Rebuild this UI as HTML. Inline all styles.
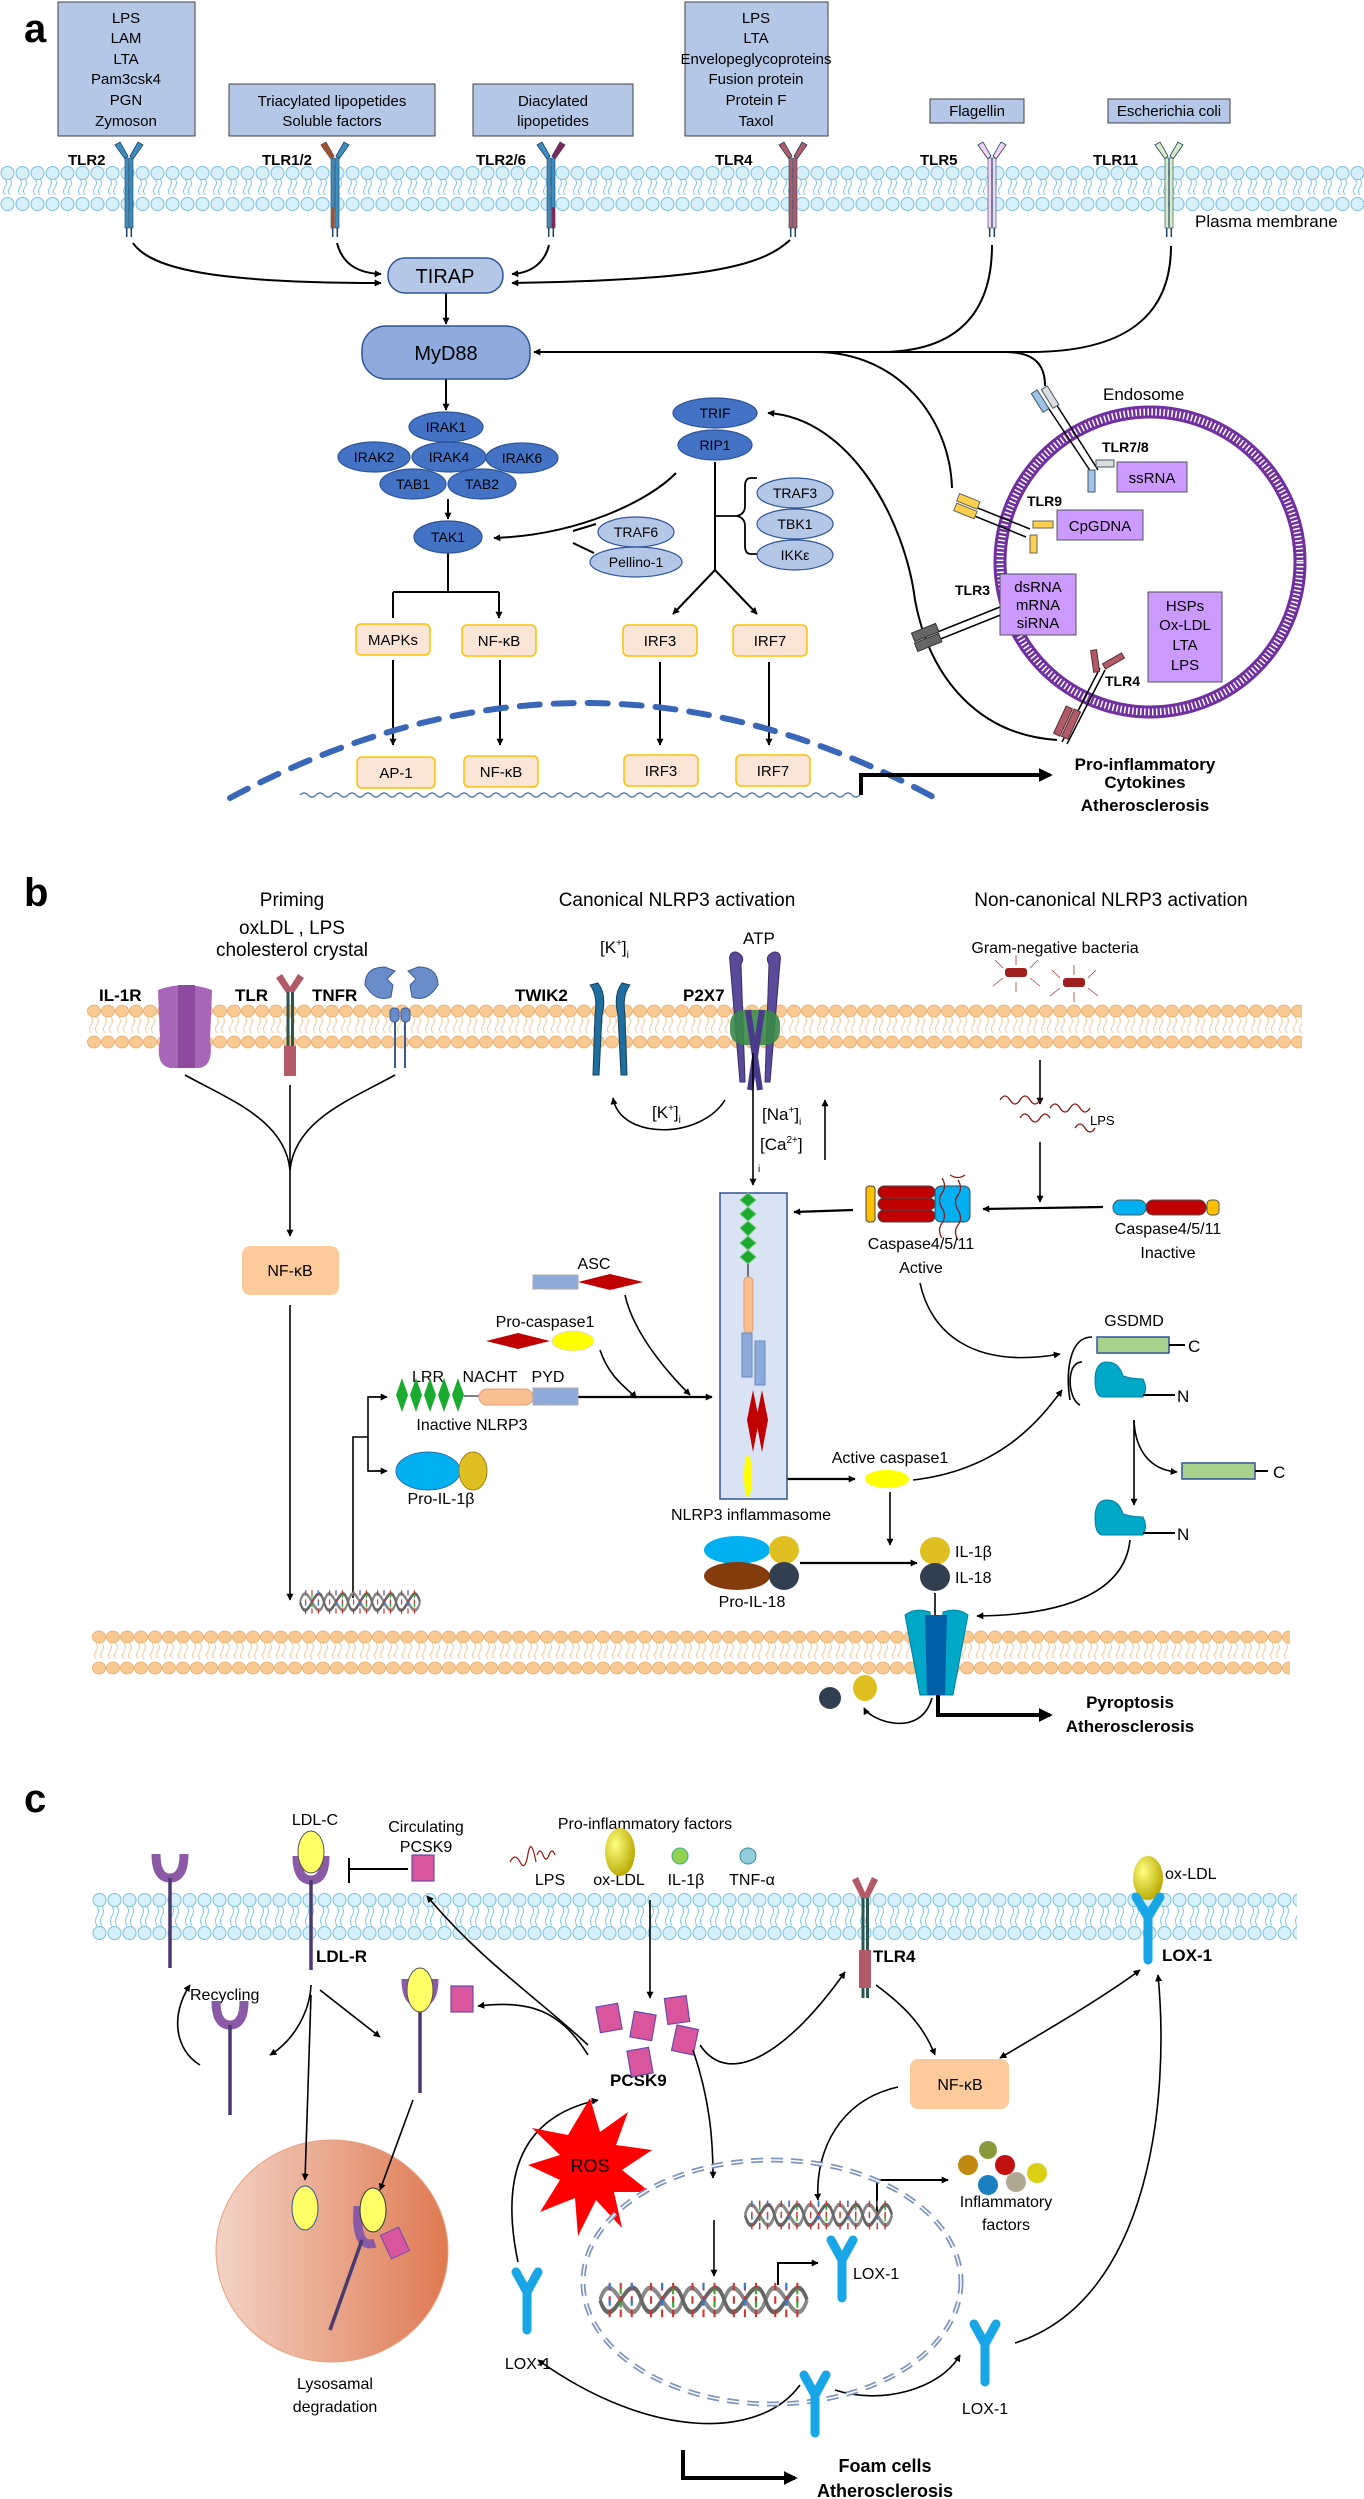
<!DOCTYPE html>
<html><head><meta charset="utf-8"><style>
html,body{margin:0;padding:0;background:#fff}
svg{display:block}
text{font-family:"Liberation Sans",Arial,sans-serif}
</style></head><body>
<svg width="1364" height="2499" viewBox="0 0 1364 2499" xmlns="http://www.w3.org/2000/svg">
<defs>
<marker id="ah" viewBox="0 0 10 10" refX="9" refY="5" markerWidth="7" markerHeight="7" orient="auto-start-reverse" markerUnits="userSpaceOnUse"><path d="M0,0 L10,5 L0,10 z" fill="#000"/></marker>
<marker id="ahb" viewBox="0 0 10 10" refX="8" refY="5" markerWidth="14" markerHeight="14" orient="auto" markerUnits="userSpaceOnUse"><path d="M0,0 L10,5 L0,10 z" fill="#000"/></marker>
<pattern id="memB" x="0" y="166" width="15" height="45" patternUnits="userSpaceOnUse">
<path d="M5,13 q3,4 0,8 t0,8 M10,13 q3,4 0,8 t0,8" stroke="#7cc8e8" stroke-width="1" fill="none"/>
<circle cx="7.5" cy="7" r="6.5" fill="#d8f0fa" stroke="#7cc0dc" stroke-width="1"/>
<circle cx="7.5" cy="38" r="6.5" fill="#d8f0fa" stroke="#7cc0dc" stroke-width="1"/>
</pattern>
<pattern id="memC" x="92" y="1893" width="15" height="47" patternUnits="userSpaceOnUse">
<path d="M5,13 q3,5 0,10 t0,10 M10,13 q3,5 0,10 t0,10" stroke="#7cc8e8" stroke-width="1" fill="none"/>
<circle cx="7.5" cy="7" r="6.5" fill="#d8f0fa" stroke="#7cc0dc" stroke-width="1"/>
<circle cx="7.5" cy="40" r="6.5" fill="#d8f0fa" stroke="#7cc0dc" stroke-width="1"/>
</pattern>
<pattern id="memO" x="87" y="1004" width="14" height="45" patternUnits="userSpaceOnUse">
<path d="M4,13 q3,4 0,8 t0,8 M10,13 q3,4 0,8 t0,8" stroke="#f6c898" stroke-width="1" fill="none"/>
<ellipse cx="7" cy="7" rx="6.5" ry="6" fill="#f9c992" stroke="#e3a868" stroke-width="0.8"/>
<ellipse cx="7" cy="38" rx="6.5" ry="6" fill="#f9c992" stroke="#e3a868" stroke-width="0.8"/>
</pattern>
<pattern id="memO2" x="92" y="1630" width="14" height="45" patternUnits="userSpaceOnUse">
<path d="M4,13 q3,4 0,8 t0,8 M10,13 q3,4 0,8 t0,8" stroke="#f6c898" stroke-width="1" fill="none"/>
<ellipse cx="7" cy="7" rx="6.5" ry="6" fill="#f9c992" stroke="#e3a868" stroke-width="0.8"/>
<ellipse cx="7" cy="38" rx="6.5" ry="6" fill="#f9c992" stroke="#e3a868" stroke-width="0.8"/>
</pattern>
<linearGradient id="lyso" x1="0" x2="1" y1="0" y2="0"><stop offset="0" stop-color="#f3d3c5"/><stop offset="1" stop-color="#df7a52"/></linearGradient>
<radialGradient id="yb" cx="0.35" cy="0.35" r="0.7"><stop offset="0" stop-color="#ffff80"/><stop offset="1" stop-color="#b8a800"/></radialGradient>
<g id="tlr">
<polygon points="-14,-44 -9,-47 -1,-33 -4,-30" fill="currentColor" stroke="#1f3f5f" stroke-width="0.8"/>
<polygon points="14,-44 9,-47 1,-33 4,-30" fill="currentColor" stroke="#1f3f5f" stroke-width="0.8"/>
<rect x="-4" y="-31" width="3.5" height="70" fill="currentColor" stroke="#1f3f5f" stroke-width="0.6"/>
<rect x="0.5" y="-31" width="3.5" height="70" fill="currentColor" stroke="#1f3f5f" stroke-width="0.6"/>
<path d="M-2.3,39 V48 M2.3,39 V48" stroke="#1f3f5f" stroke-width="1.5"/>
</g>
<g id="lox"><path d="M-11,-28 L0,-8 L11,-28 M0,-8 V30" stroke="#19a6e6" stroke-width="9" stroke-linecap="round" fill="none"/></g>
<g id="ldlr"><path d="M-14,-24 Q-14,0 0,0 Q14,0 14,-24" stroke="#8a5aa6" stroke-width="9" fill="none"/><path d="M0,0 V90" stroke="#4a3a70" stroke-width="3.5"/></g>
<g id="sq"><rect x="-11" y="-13" width="22" height="26" fill="#d9559c" stroke="#6b4bb0" stroke-width="1.2"/></g>
<g id="dna"><path d="M0,0 c10,-22 20,22 30,0 s20,22 30,0 s20,22 30,0 s20,22 30,0 s20,22 30,0" stroke="#888" stroke-width="2.5" fill="none"/><path d="M0,0 c10,22 20,-22 30,0 s20,-22 30,0 s20,-22 30,0 s20,-22 30,0 s20,-22 30,0" stroke="#666" stroke-width="2.5" fill="none"/><path d="M7,-9 v18 M15,-9 v18 M23,-9 v18 M37,-9 v18 M45,-9 v18 M53,-9 v18 M67,-9 v18 M75,-9 v18 M83,-9 v18 M97,-9 v18 M105,-9 v18 M113,-9 v18 M127,-9 v18 M135,-9 v18 M143,-9 v18" stroke="#c33" stroke-width="1.5" stroke-dasharray="4 3"/><path d="M7,-9 v18 M23,-9 v18 M45,-9 v18 M75,-9 v18 M105,-9 v18 M135,-9 v18" stroke="#2a7de1" stroke-width="1.5" stroke-dasharray="3 6"/><path d="M15,-6 v12 M53,-6 v12 M83,-6 v12 M113,-6 v12 M143,-6 v12" stroke="#3a3" stroke-width="1.5" stroke-dasharray="3 4"/></g>
</defs>

<!-- ================= SECTION A ================= -->
<text x="24" y="42" font-size="40" font-weight="bold">a</text>
<g font-size="15" text-anchor="middle">
<rect x="58" y="2" width="137" height="134" fill="#b4c7e7" stroke="#404040" stroke-width="1"/>
<text x="126" y="23">LPS</text><text x="126" y="43">LAM</text><text x="126" y="64">LTA</text><text x="126" y="84">Pam3csk4</text><text x="126" y="105">PGN</text><text x="126" y="126">Zymoson</text>
<rect x="229" y="84" width="206" height="52" fill="#b4c7e7" stroke="#404040"/>
<text x="332" y="106">Triacylated lipopetides</text><text x="332" y="126">Soluble factors</text>
<rect x="473" y="84" width="160" height="52" fill="#b4c7e7" stroke="#404040"/>
<text x="553" y="106">Diacylated</text><text x="553" y="126">lipopetides</text>
<rect x="685" y="2" width="143" height="134" fill="#b4c7e7" stroke="#404040"/>
<text x="756" y="23">LPS</text><text x="756" y="43">LTA</text><text x="756" y="64">Envelopeglycoproteins</text><text x="756" y="84">Fusion protein</text><text x="756" y="105">Protein F</text><text x="756" y="126">Taxol</text>
<rect x="930" y="99" width="94" height="24" fill="#b4c7e7" stroke="#404040"/>
<text x="977" y="116">Flagellin</text>
<rect x="1108" y="99" width="122" height="24" fill="#b4c7e7" stroke="#404040"/>
<text x="1169" y="116">Escherichia coli</text>
</g>
<rect x="0" y="166" width="1364" height="45" fill="url(#memB)"/>
<g font-size="15" font-weight="bold">
<text x="68" y="165">TLR2</text><text x="262" y="165">TLR1/2</text><text x="476" y="165">TLR2/6</text><text x="715" y="165">TLR4</text><text x="920" y="165">TLR5</text><text x="1093" y="165">TLR11</text>
</g>
<text x="1195" y="227" font-size="17">Plasma membrane</text>
<use href="#tlr" x="129" y="189" color="#3a8fc0"/>
<use href="#tlr" x="335" y="189" color="#3a8fc0"/>
<g transform="translate(335,189)"><polygon points="-14,-44 -9,-47 -1,-33 -4,-30" fill="#a0522d"/><rect x="-4" y="18" width="3.5" height="21" fill="#a0522d"/></g>
<use href="#tlr" x="551" y="189" color="#3a8fc0"/>
<g transform="translate(551,189)"><polygon points="14,-44 9,-47 1,-33 4,-30" fill="#7b2a5a"/><rect x="0.5" y="18" width="3.5" height="21" fill="#7b2a5a"/></g>
<use href="#tlr" x="793" y="189" color="#b25a68"/>
<use href="#tlr" x="992" y="189" color="#f2d6f2"/>
<use href="#tlr" x="1169" y="189" color="#d8ecc8"/>

<g fill="none" stroke="#000" stroke-width="2">
<path d="M133,243 C150,268 210,283 381,283" marker-end="url(#ah)"/>
<path d="M337,243 C342,262 355,273 381,274" marker-end="url(#ah)"/>
<path d="M549,245 C545,262 532,273 512,274" marker-end="url(#ah)"/>
<path d="M790,240 C760,268 700,280 512,283" marker-end="url(#ah)"/>
<path d="M992,245 C992,320 950,352 880,352 L534,352" marker-end="url(#ah)"/>
<path d="M1171,246 C1171,320 1120,352 1030,352 L880,352"/>
<path d="M1045,386 C1045,365 1035,352 1005,352"/>
<path d="M952,488 C950,420 900,352 815,352"/>
<path d="M1057,740 C980,735 930,680 915,600 C905,520 850,418 768,413" marker-end="url(#ah)"/>
<path d="M446,293 V324" marker-end="url(#ah)"/>
<path d="M446,379 V410" marker-end="url(#ah)"/>
<path d="M448,499 V519" marker-end="url(#ah)"/>
<path d="M676,473 C650,500 580,535 494,538" marker-end="url(#ah)"/>
<path d="M573,531 L596,524 M573,543 L594,553"/>
<path d="M448,553 V592 M393,592 H499"/>
<path d="M393,592 V618 M499,592 V618" marker-end="url(#ah)"/>
<path d="M715,462 V570"/>
<path d="M715,570 L673,614" marker-end="url(#ah)"/>
<path d="M715,570 L757,614" marker-end="url(#ah)"/>
<path d="M757,478 h-6 q-6,0 -6,8 v20 q0,8 -8,10 q8,2 8,10 v20 q0,8 6,8 h6" stroke-width="1.8"/>
<path d="M715,516 H737" stroke-width="1.8"/>
<path d="M393,660 V745" marker-end="url(#ah)"/>
<path d="M500,660 V745" marker-end="url(#ah)"/>
<path d="M660,662 V745" marker-end="url(#ah)"/>
<path d="M769,662 V745" marker-end="url(#ah)"/>
</g>
<rect x="388" y="258" width="115" height="35" rx="17" fill="#b4c7e7" stroke="#2f5597" stroke-width="1.5"/>
<text x="445" y="283" font-size="20" text-anchor="middle">TIRAP</text>
<rect x="362" y="326" width="168" height="53" rx="24" fill="#8faadc" stroke="#2f5597" stroke-width="1.5"/>
<text x="446" y="360" font-size="20" text-anchor="middle">MyD88</text>
<g fill="#4472c4" stroke="#2f5597" stroke-width="1.2">
<ellipse cx="446" cy="427" rx="37" ry="15"/>
<ellipse cx="374" cy="457" rx="36" ry="15"/><ellipse cx="522" cy="458" rx="36" ry="15"/><ellipse cx="449" cy="457" rx="37" ry="15"/>
<ellipse cx="413" cy="484" rx="33" ry="15"/><ellipse cx="482" cy="484" rx="34" ry="15"/>
<ellipse cx="448" cy="537" rx="34" ry="16"/>
<ellipse cx="715" cy="413" rx="42" ry="15"/><ellipse cx="715" cy="445" rx="37" ry="15"/>
</g>
<g fill="#b4c7e7" stroke="#2f5597" stroke-width="1.2">
<ellipse cx="636" cy="532" rx="38" ry="15"/><ellipse cx="636" cy="562" rx="46" ry="15"/>
<ellipse cx="795" cy="493" rx="38" ry="15"/><ellipse cx="795" cy="524" rx="38" ry="15"/><ellipse cx="795" cy="555" rx="38" ry="15"/>
</g>
<g font-size="14" text-anchor="middle">
<text x="446" y="432">IRAK1</text><text x="374" y="462">IRAK2</text><text x="449" y="462">IRAK4</text><text x="522" y="463">IRAK6</text><text x="413" y="489">TAB1</text><text x="482" y="489">TAB2</text><text x="448" y="542">TAK1</text>
<text x="715" y="418">TRIF</text><text x="715" y="450">RIP1</text>
<text x="636" y="537">TRAF6</text><text x="636" y="567">Pellino-1</text>
<text x="795" y="498">TRAF3</text><text x="795" y="529">TBK1</text><text x="795" y="560">IKKε</text>
</g>
<g fill="#fbe5d6" stroke="#ffc000" stroke-width="1.5">
<rect x="356" y="624" width="74" height="31" rx="5"/><rect x="462" y="625" width="74" height="31" rx="5"/><rect x="623" y="625" width="74" height="31" rx="5"/><rect x="733" y="625" width="74" height="31" rx="5"/>
<rect x="357" y="757" width="78" height="31" rx="5"/><rect x="464" y="756" width="74" height="31" rx="5"/><rect x="624" y="755" width="74" height="31" rx="5"/><rect x="736" y="755" width="74" height="31" rx="5"/>
</g>
<g font-size="15" text-anchor="middle">
<text x="393" y="645">MAPKs</text><text x="499" y="646">NF-κB</text><text x="660" y="646">IRF3</text><text x="770" y="646">IRF7</text>
<text x="396" y="778">AP-1</text><text x="501" y="777">NF-κB</text><text x="661" y="776">IRF3</text><text x="773" y="776">IRF7</text>
</g>
<path d="M230,798 Q585,608 935,798" fill="none" stroke="#3a66b8" stroke-width="6" stroke-dasharray="20 14" stroke-linecap="round"/>
<path d="M300,795 q4,-4 8,0 t8,0 t8,0 t8,0 t8,0 t8,0 t8,0 t8,0 t8,0 t8,0 t8,0 t8,0 t8,0 t8,0 t8,0 t8,0 t8,0 t8,0 t8,0 t8,0 t8,0 t8,0 t8,0 t8,0 t8,0 t8,0 t8,0 t8,0 t8,0 t8,0 t8,0 t8,0 t8,0 t8,0 t8,0 t8,0 t8,0 t8,0 t8,0 t8,0 t8,0 t8,0 t8,0 t8,0 t8,0 t8,0 t8,0 t8,0 t8,0 t8,0 t8,0 t8,0 t8,0 t8,0 t8,0 t8,0 t8,0 t8,0 t8,0 t8,0 t8,0 t8,0 t8,0 t8,0 t8,0 t8,0 t8,0 t8,0 t8,0 t8,0" fill="none" stroke="#5a7fc0" stroke-width="1.5"/>
<path d="M861,795 V775 H1050" fill="none" stroke="#000" stroke-width="4" marker-end="url(#ahb)"/>
<g font-size="17" font-weight="bold" text-anchor="middle"><text x="1145" y="770">Pro-inflammatory</text><text x="1145" y="788">Cytokines</text><text x="1145" y="811">Atherosclerosis</text></g>
<!-- endosome -->
<circle cx="1150" cy="562" r="150" fill="none" stroke="#7030a0" stroke-width="13"/>
<circle cx="1150" cy="562" r="150" fill="none" stroke="#fff" stroke-width="7" stroke-dasharray="1.5 2.5"/>
<text x="1103" y="400" font-size="17">Endosome</text>
<g stroke="#000" stroke-width="1.5"><path d="M1043,400 L1093,475 M1051,396 L1098,470"/></g>
<rect x="1036" y="390" width="7" height="22" transform="rotate(-32 1040 400)" fill="#9dc3e6" stroke="#456"/>
<rect x="1046" y="386" width="7" height="22" transform="rotate(-32 1050 396)" fill="#ddd" stroke="#456"/>
<rect x="1088" y="470" width="7" height="22" fill="#9dc3e6" stroke="#456"/><rect x="1096" y="460" width="18" height="7" fill="#ddd" stroke="#456"/>
<text x="1102" y="452" font-size="14" font-weight="bold">TLR7/8</text>
<rect x="1117" y="462" width="70" height="30" fill="#cc99ff" stroke="#555"/><text x="1152" y="483" font-size="15" text-anchor="middle">ssRNA</text>
<g stroke="#000" stroke-width="1.5"><path d="M958,500 L1030,529 M955,508 L1026,537"/></g>
<rect x="958" y="494" width="22" height="8" transform="rotate(22 960 498)" fill="#ffd050" stroke="#665"/>
<rect x="955" y="504" width="22" height="8" transform="rotate(22 958 508)" fill="#ffd050" stroke="#665"/>
<rect x="1033" y="521" width="20" height="7" fill="#ffd050" stroke="#665"/><rect x="1030" y="535" width="7" height="18" fill="#ffd050" stroke="#665"/>
<text x="1027" y="506" font-size="14" font-weight="bold">TLR9</text>
<rect x="1057" y="510" width="86" height="30" fill="#cc99ff" stroke="#555"/><text x="1100" y="531" font-size="15" text-anchor="middle">CpGDNA</text>
<text x="955" y="595" font-size="14" font-weight="bold">TLR3</text>
<g stroke="#000" stroke-width="1.5"><path d="M935,633 L1005,605 M938,640 L1008,612"/></g>
<rect x="912" y="628" width="26" height="9" transform="rotate(-22 925 632)" fill="#666" stroke="#333"/>
<rect x="915" y="638" width="26" height="9" transform="rotate(-22 928 642)" fill="#666" stroke="#333"/>
<rect x="1000" y="574" width="76" height="61" fill="#cc99ff" stroke="#555"/>
<g font-size="15" text-anchor="middle"><text x="1038" y="592">dsRNA</text><text x="1038" y="610">mRNA</text><text x="1038" y="628">siRNA</text></g>
<rect x="1148" y="592" width="74" height="90" fill="#cc99ff" stroke="#555"/>
<g font-size="15" text-anchor="middle"><text x="1185" y="611">HSPs</text><text x="1185" y="630">Ox-LDL</text><text x="1185" y="650">LTA</text><text x="1185" y="670">LPS</text></g>
<g stroke="#000" stroke-width="1.5"><path d="M1100,668 L1062,742 M1105,670 L1067,744"/></g>
<rect x="1092" y="650" width="6" height="22" fill="#b25a68" stroke="#533" transform="rotate(-8 1095 660)"/>
<rect x="1103" y="660" width="22" height="6" fill="#b25a68" stroke="#533" transform="rotate(-30 1110 663)"/>
<rect x="1060" y="706" width="7" height="30" fill="#b25a68" stroke="#533" transform="rotate(25 1063 720)"/>
<rect x="1068" y="709" width="7" height="30" fill="#b25a68" stroke="#533" transform="rotate(25 1071 723)"/>
<text x="1105" y="686" font-size="14" font-weight="bold">TLR4</text>

<!-- ================= SECTION B ================= -->
<text x="24" y="906" font-size="40" font-weight="bold">b</text>
<g font-size="19" text-anchor="middle"><text x="292" y="906">Priming</text><text x="292" y="934">oxLDL , LPS</text><text x="292" y="956">cholesterol crystal</text>
<text x="677" y="906">Canonical NLRP3 activation</text><text x="1111" y="906">Non-canonical NLRP3 activation</text></g>
<text x="600" y="953" font-size="17">[K<tspan font-size="10" dy="-7">+</tspan><tspan dy="7">]</tspan><tspan font-size="10" dy="5">i</tspan></text>
<text x="743" y="944" font-size="17">ATP</text>
<text x="1055" y="953" font-size="16" text-anchor="middle">Gram-negative bacteria</text>
<rect x="87" y="1004" width="1215" height="45" fill="url(#memO)"/>
<g font-size="17" font-weight="bold"><text x="99" y="1001">IL-1R</text><text x="235" y="1001">TLR</text><text x="312" y="1001">TNFR</text><text x="515" y="1001">TWIK2</text><text x="683" y="1001">P2X7</text></g>
<path d="M158,990 Q185,980 212,990 L210,1040 Q214,1065 200,1068 H170 Q155,1065 160,1040 Z" fill="#a866b8"/><path d="M178,985 H195 V1068 H178 Z" fill="#8e4a9e"/>
<g transform="translate(290,1000)"><polygon points="-14,-22 -8,-26 2,-10 -3,-6" fill="#b25a68"/><polygon points="14,-22 8,-26 -2,-10 3,-6" fill="#b25a68"/><rect x="-3.5" y="-8" width="3" height="72" fill="#2b5550"/><rect x="1" y="-8" width="3" height="72" fill="#2b5550"/><rect x="-6" y="46" width="6" height="30" fill="#b25a68"/><rect x="0" y="46" width="6" height="30" fill="#b25a68"/></g>
<path d="M365,985 q0,-18 20,-18 l10,4 l-8,8 l6,6 l-2,12 q-15,6 -26,-12z" fill="#6a8cc8" stroke="#3a5a98"/><path d="M438,985 q0,-18 -20,-18 l-10,4 l8,8 l-6,6 l2,12 q15,6 26,-12z" fill="#6a8cc8" stroke="#3a5a98"/>
<rect x="390" y="1008" width="9" height="14" rx="4" fill="#6a8cc8" stroke="#3a5a98"/><rect x="401" y="1008" width="9" height="14" rx="4" fill="#6a8cc8" stroke="#3a5a98"/>
<path d="M395,1022 V1068 M405,1022 V1068" stroke="#3a5a98" stroke-width="2"/>
<path d="M590,985 q8,10 5,30 l-2,60 h6 l3,-60 q5,-20 -4,-32z M630,985 q-8,10 -5,30 l2,60 h-6 l-3,-60 q-5,-20 4,-32z" fill="#1e6fa0" stroke="#15405a"/>
<path d="M736,952 q-8,0 -6,10 l10,120 h5 l-4,-118 q5,-8 -5,-12z M774,952 q8,0 6,10 l-10,120 h-5 l4,-118 q-5,-8 5,-12z" fill="#5a4a9a" stroke="#3a2a6a"/>
<rect x="730" y="1010" width="50" height="35" rx="14" fill="#3a8a4a" opacity="0.9"/><path d="M748,1010 L760,1090 M762,1010 L750,1090" stroke="#4a3a8a" stroke-width="6"/>
<g stroke="#a04040" stroke-width="0.8" fill="none"><path d="M1003,968 l-8,-8 M1003,978 l-10,8 M1030,968 l8,-8 M1030,978 l10,8 M1016,965 v-10 M1016,982 v10 M1060,978 l-8,-8 M1060,988 l-10,8 M1088,978 l8,-8 M1088,988 l10,8 M1074,975 v-10 M1074,992 v10"/></g>
<rect x="1005" y="968" width="22" height="9" rx="3" fill="#a02020"/><rect x="1063" y="978" width="22" height="9" rx="3" fill="#a02020"/>
<g fill="none" stroke="#000" stroke-width="1.6">
<path d="M185,1075 C230,1100 285,1120 290,1170" /><path d="M395,1075 C350,1100 295,1120 290,1170"/><path d="M290,1085 V1236" marker-end="url(#ah)"/>
<path d="M290,1305 V1600" marker-end="url(#ah)"/>
<path d="M613,1098 C620,1140 700,1140 725,1100" marker-start="url(#ah)"/>
<path d="M753,1053 V1185" marker-end="url(#ah)"/>
<path d="M825,1160 V1100" marker-end="url(#ah)"/>
<path d="M1040,1060 V1104" marker-end="url(#ah)"/>
<path d="M1040,1142 V1202" marker-end="url(#ah)"/>
<path d="M1103,1207 L983,1209" marker-end="url(#ah)" stroke-width="2.2"/>
<path d="M853,1210 L794,1212" marker-end="url(#ah)" stroke-width="2.2"/>
<path d="M920,1283 C930,1330 970,1370 1060,1354" marker-end="url(#ah)"/>
<path d="M578,1397 H712" marker-end="url(#ah)" stroke-width="2.2"/>
<path d="M625,1295 C635,1340 680,1385 690,1395" marker-end="url(#ah)"/>
<path d="M600,1350 C610,1380 630,1390 636,1398" marker-end="url(#ah)"/>
<path d="M353,1598 V1437 H368 V1397 H385 M368,1437 V1471 H385"/>
<path d="M368,1397 H387" marker-end="url(#ah)"/><path d="M368,1471 H387" marker-end="url(#ah)"/>
<path d="M762,1479 H855" marker-end="url(#ah)" stroke-width="2.2"/>
<path d="M913,1480 C1000,1470 1040,1420 1062,1390" marker-end="url(#ah)"/>
<path d="M1082,1362 C1065,1362 1068,1400 1080,1405"/>
<path d="M1092,1337 C1068,1337 1066,1375 1070,1400"/>
<path d="M1134,1420 C1135,1450 1150,1470 1177,1472" marker-end="url(#ah)"/>
<path d="M1134,1420 V1505" marker-end="url(#ah)"/>
<path d="M890,1492 V1545" marker-end="url(#ah)"/>
<path d="M800,1563 H917" marker-end="url(#ah)" stroke-width="2.2"/>
<path d="M1130,1540 C1125,1590 1070,1615 977,1616" marker-end="url(#ah)"/>
<path d="M935,1593 V1640" marker-end="url(#ah)"/>
<path d="M932,1698 C920,1740 870,1720 864,1708" marker-end="url(#ah)"/>
</g>
<text x="652" y="1118" font-size="17">[K<tspan font-size="10" dy="-7">+</tspan><tspan dy="7">]</tspan><tspan font-size="10" dy="5">i</tspan></text>
<text x="762" y="1120" font-size="17">[Na<tspan font-size="10" dy="-7">+</tspan><tspan dy="7">]</tspan><tspan font-size="10" dy="5">i</tspan></text>
<text x="760" y="1150" font-size="17">[Ca<tspan font-size="10" dy="-7">2+</tspan><tspan dy="7">]</tspan></text>
<text x="758" y="1172" font-size="10">i</text>
<g stroke="#8b1a1a" stroke-width="1.3" fill="none"><path d="M1000,1100 q5,-8 10,0 t10,0 t10,0 t10,0 M1020,1118 q5,-8 10,0 t10,0 t10,0 M1050,1108 q5,-8 10,0 t10,0 t10,0 t10,0 M1075,1128 q5,-8 10,0 t10,0"/></g>
<text x="1090" y="1125" font-size="13">LPS</text>
<rect x="242" y="1246" width="97" height="49" rx="8" fill="#fdcb9b"/><text x="290" y="1276" font-size="16" text-anchor="middle">NF-κB</text>
<g transform="translate(300,1602) scale(0.8,1.3)"><use href="#dna"/></g>
<rect x="720" y="1193" width="67" height="306" fill="#dae3f3" stroke="#2f5597" stroke-width="1.5"/>
<g fill="#1aaa30" stroke="#7c7"><polygon points="748,1193 756,1200 748,1207 740,1200"/><polygon points="748,1207 756,1214 748,1221 740,1214"/><polygon points="748,1221 756,1228 748,1236 740,1228"/><polygon points="748,1236 756,1243 748,1250 740,1243"/><polygon points="748,1250 756,1257 748,1264 740,1257"/></g>
<path d="M748,1264 V1278" stroke="#000"/>
<rect x="744" y="1277" width="9" height="56" rx="4" fill="#f8c090" stroke="#e0a070"/>
<rect x="742" y="1333" width="10" height="44" fill="#8eaadb" stroke="#6a8ac0"/><rect x="755" y="1341" width="10" height="44" fill="#8eaadb" stroke="#6a8ac0"/>
<polygon points="753,1390 759,1420 753,1452 747,1420" fill="#c00000"/><polygon points="762,1390 768,1420 762,1452 756,1420" fill="#c00000"/>
<ellipse cx="748" cy="1476" rx="4" ry="21" fill="#ffff00"/>
<text x="751" y="1520" font-size="16" text-anchor="middle">NLRP3 inflammasome</text>
<g>
<rect x="866" y="1186" width="9" height="36" rx="3" fill="#ffc000" stroke="#444"/>
<rect x="878" y="1186" width="57" height="12" rx="6" fill="#c00000" stroke="#444"/><rect x="878" y="1198" width="57" height="12" rx="6" fill="#c00000" stroke="#444"/><rect x="878" y="1210" width="57" height="12" rx="6" fill="#c00000" stroke="#444"/>
<rect x="935" y="1186" width="35" height="36" rx="6" fill="#00b0f0" stroke="#444"/>
<path d="M942,1178 q5,8 0,15 t0,15 t0,15 t0,15 M958,1180 q5,8 0,15 t0,15 t0,15 t0,15 M950,1175 q8,5 15,0" stroke="#8b1a1a" fill="none" stroke-width="1.3"/>
</g>
<g font-size="16" text-anchor="middle"><text x="921" y="1249">Caspase4/5/11</text><text x="921" y="1273">Active</text><text x="1168" y="1234">Caspase4/5/11</text><text x="1168" y="1258">Inactive</text></g>
<rect x="1113" y="1200" width="33" height="15" rx="7" fill="#00b0f0" stroke="#555"/><rect x="1146" y="1200" width="60" height="15" rx="7" fill="#c00000" stroke="#555"/><rect x="1207" y="1200" width="12" height="15" rx="4" fill="#ffc000" stroke="#555"/>
<text x="594" y="1269" font-size="16" text-anchor="middle">ASC</text>
<rect x="533" y="1275" width="45" height="14" fill="#8eaadb" stroke="#aaa"/><polygon points="578,1282 610,1274 643,1282 610,1290" fill="#c00000"/>
<text x="545" y="1327" font-size="16" text-anchor="middle">Pro-caspase1</text>
<polygon points="486,1341 518,1333 550,1341 518,1349" fill="#c00000"/><ellipse cx="573" cy="1341" rx="21" ry="10" fill="#ffff00" stroke="#ddd"/>
<g font-size="16" text-anchor="middle"><text x="428" y="1382">LRR</text><text x="490" y="1382">NACHT</text><text x="548" y="1382">PYD</text><text x="472" y="1430">Inactive NLRP3</text></g>
<g fill="#1aaa30"><polygon points="402,1378 408,1395 402,1412 396,1395"/><polygon points="416,1378 422,1395 416,1412 410,1395"/><polygon points="430,1378 436,1395 430,1412 424,1395"/><polygon points="444,1378 450,1395 444,1412 438,1395"/><polygon points="458,1378 464,1395 458,1412 452,1395"/></g>
<path d="M464,1396 H480" stroke="#000"/>
<rect x="479" y="1389" width="54" height="16" rx="8" fill="#f8c090" stroke="#e0a070"/><rect x="533" y="1388" width="45" height="17" fill="#8eaadb" stroke="#aaa"/>
<ellipse cx="428" cy="1471" rx="32" ry="19" fill="#00b0f0" stroke="#2a70b0"/><ellipse cx="473" cy="1471" rx="14" ry="19" fill="#e0c020" stroke="#a08010"/>
<text x="441" y="1504" font-size="16" text-anchor="middle">Pro-IL-1β</text>
<text x="890" y="1463" font-size="16" text-anchor="middle">Active caspase1</text>
<ellipse cx="887" cy="1479" rx="22" ry="9" fill="#ffff00"/>
<text x="1134" y="1326" font-size="16" text-anchor="middle">GSDMD</text>
<rect x="1097" y="1337" width="72" height="16" fill="#a9d18e" stroke="#2f5597" stroke-width="1.5"/><path d="M1169,1345 H1185" stroke="#000" stroke-width="2"/><text x="1188" y="1352" font-size="17">C</text>
<path d="M1095,1380 q0,-18 12,-18 q12,0 16,14 q10,3 20,3 q5,10 0,18 h-40 q-8,0 -8,-17z" fill="#00a8c8" stroke="#0080a0"/><path d="M1143,1395 H1175" stroke="#000" stroke-width="2"/><text x="1177" y="1402" font-size="17">N</text>
<rect x="1182" y="1463" width="73" height="16" fill="#a9d18e" stroke="#2f5597" stroke-width="1.5"/><path d="M1255,1471 H1268" stroke="#000" stroke-width="2"/><text x="1273" y="1478" font-size="17">C</text>
<path d="M1095,1518 q0,-18 12,-18 q12,0 16,14 q10,3 20,3 q5,10 0,18 h-40 q-8,0 -8,-17z" fill="#00a8c8" stroke="#0080a0"/><path d="M1143,1533 H1175" stroke="#000" stroke-width="2"/><text x="1177" y="1540" font-size="17">N</text>
<ellipse cx="737" cy="1550" rx="33" ry="14" fill="#00b0f0"/><ellipse cx="784" cy="1550" rx="15" ry="14" fill="#e0c020"/>
<ellipse cx="737" cy="1576" rx="33" ry="14" fill="#843c0c"/><ellipse cx="784" cy="1576" rx="15" ry="14" fill="#323f50"/>
<text x="752" y="1607" font-size="16" text-anchor="middle">Pro-IL-18</text>
<ellipse cx="935" cy="1551" rx="15" ry="14" fill="#e0c020"/><ellipse cx="935" cy="1577" rx="15" ry="14" fill="#323f50"/>
<text x="955" y="1557" font-size="16">IL-1β</text><text x="955" y="1583" font-size="16">IL-18</text>
<rect x="92" y="1630" width="1198" height="45" fill="url(#memO2)"/>
<path d="M905,1615 q10,-8 25,-3 l5,83 h-15 z M968,1615 q-10,-8 -25,-3 l-5,83 h15 z" fill="#00a8c8" stroke="#0080a0"/>
<path d="M925,1615 h22 l-2,80 h-18 z" fill="#0060a8"/>
<ellipse cx="830" cy="1698" rx="11" ry="11" fill="#323f50"/><ellipse cx="865" cy="1688" rx="12" ry="13" fill="#e0c020"/>
<path d="M938,1695 V1715 H1050" fill="none" stroke="#000" stroke-width="4" marker-end="url(#ahb)"/>
<g font-size="17" font-weight="bold" text-anchor="middle"><text x="1130" y="1708">Pyroptosis</text><text x="1130" y="1732">Atherosclerosis</text></g>

<!-- ================= SECTION C ================= -->
<text x="24" y="1812" font-size="40" font-weight="bold">c</text>
<g font-size="16" text-anchor="middle"><text x="315" y="1825">LDL-C</text><text x="426" y="1832">Circulating</text><text x="426" y="1852">PCSK9</text><text x="645" y="1829">Pro-inflammatory factors</text>
<text x="550" y="1885">LPS</text><text x="619" y="1885">ox-LDL</text><text x="686" y="1885">IL-1β</text><text x="752" y="1885">TNF-α</text></g>
<text x="1165" y="1879" font-size="16">ox-LDL</text>
<rect x="92" y="1893" width="1205" height="47" fill="url(#memC)"/>
<use href="#ldlr" x="170" y="1878"/><use href="#ldlr" x="311" y="1880"/>
<ellipse cx="311" cy="1852" rx="13" ry="21" fill="#ffff66" stroke="#555"/>
<path d="M349,1858 V1883 M349,1869 H408" stroke="#000" stroke-width="2"/>
<use href="#sq" x="423" y="1868"/>
<path d="M510,1862 q5,-10 10,0 t8,-8 t8,8 M537,1855 q3,-8 6,0 t6,0 t6,0" stroke="#a01010" fill="none" stroke-width="1.2"/>
<ellipse cx="620" cy="1852" rx="15" ry="24" fill="url(#yb)"/>
<circle cx="680" cy="1856" r="8" fill="#92d050" stroke="#4a8"/><circle cx="748" cy="1856" r="8" fill="#92cddc" stroke="#3a8aa0"/>
<ellipse cx="1148" cy="1878" rx="15" ry="22" fill="url(#yb)"/>
<g transform="translate(865,1915)"><polygon points="-13,-35 -7,-38 2,-18 -3,-15" fill="#b25a68"/><polygon points="13,-35 7,-38 -2,-18 3,-15" fill="#b25a68"/><rect x="-3.5" y="-17" width="3" height="100" fill="#2b5550"/><rect x="1" y="-17" width="3" height="100" fill="#2b5550"/><rect x="-6" y="35" width="6" height="38" fill="#b25a68"/><rect x="0" y="35" width="6" height="38" fill="#b25a68"/></g>
<g transform="translate(1148,1925)"><path d="M-12,-28 L0,-8 L12,-28 M0,-8 V35" stroke="#19a6e6" stroke-width="9" stroke-linecap="round" fill="none"/></g>
<g font-size="17" font-weight="bold"><text x="316" y="1962">LDL-R</text><text x="873" y="1962">TLR4</text><text x="1162" y="1961">LOX-1</text><text x="610" y="2086">PCSK9</text></g>
<text x="190" y="2000" font-size="16">Recycling</text>
<use href="#ldlr" x="230" y="2025"/>
<use href="#ldlr" x="420" y="2003"/>
<ellipse cx="420" cy="1990" rx="13" ry="22" fill="#ffff66" stroke="#555"/><use href="#sq" x="462" y="1999"/>
<use href="#sq" x="609" y="2018" transform="rotate(-10 609 2018)"/><use href="#sq" x="643" y="2026" transform="rotate(10 643 2026)"/><use href="#sq" x="677" y="2010" transform="rotate(-8 677 2010)"/><use href="#sq" x="685" y="2040" transform="rotate(12 685 2040)"/><use href="#sq" x="640" y="2062" transform="rotate(-10 640 2062)"/>
<ellipse cx="332" cy="2251" rx="116" ry="111" fill="url(#lyso)" stroke="#e8a080"/>
<ellipse cx="305" cy="2208" rx="13" ry="22" fill="#ffff66" stroke="#2f5597"/>
<path d="M358,2206 Q355,2250 375,2243" stroke="#8a5aa6" stroke-width="9" fill="none"/><ellipse cx="373" cy="2210" rx="13" ry="22" fill="#ffff66" stroke="#333"/>
<path d="M362,2240 L330,2330" stroke="#4a3a70" stroke-width="3.5"/>
<rect x="385" y="2230" width="20" height="26" fill="#d9559c" stroke="#6b4bb0" transform="rotate(-25 395 2243)"/>
<g font-size="16" text-anchor="middle"><text x="335" y="2389">Lysosamal</text><text x="335" y="2412">degradation</text></g>
<g fill="none" stroke="#000" stroke-width="1.6">
<path d="M190,1985 C170,2015 175,2050 200,2065" marker-start="url(#ah)"/>
<path d="M311,1985 C310,2010 295,2040 270,2055" marker-end="url(#ah)"/>
<path d="M311,1995 L305,2180" marker-end="url(#ah)"/>
<path d="M320,1990 L380,2037" marker-end="url(#ah)"/>
<path d="M413,2100 L380,2190" marker-end="url(#ah)"/>
<path d="M588,2055 C560,2010 530,2000 478,2006" marker-end="url(#ah)"/>
<path d="M588,2045 C540,2000 480,1960 427,1896" marker-end="url(#ah)"/>
<path d="M650,1900 V1998" marker-end="url(#ah)"/>
<path d="M700,2045 C730,2090 790,2050 845,1972" marker-end="url(#ah)"/>
<path d="M876,1985 C910,2010 925,2030 935,2055" marker-end="url(#ah)"/>
<path d="M1140,1970 C1100,2000 1030,2040 1000,2058" marker-end="url(#ah)" marker-start="url(#ah)"/>
<path d="M1158,1975 C1170,2100 1150,2300 1015,2343" marker-start="url(#ah)"/>
<path d="M693,2050 C710,2100 713,2140 713,2178" marker-end="url(#ah)"/>
<path d="M898,2087 C840,2100 815,2150 818,2200" marker-end="url(#ah)"/>
<path d="M714,2220 V2276" marker-end="url(#ah)"/>
<path d="M518,2262 C505,2200 505,2120 598,2100" marker-end="url(#ah)"/>
<path d="M800,2385 C760,2440 650,2440 538,2360" marker-end="url(#ah)"/>
<path d="M835,2390 C880,2405 940,2390 960,2355" marker-end="url(#ah)"/>
</g>
<path d="M877,2215 V2180 H948" fill="none" stroke="#000" stroke-width="2" marker-end="url(#ah)"/>
<path d="M778,2285 V2263 H818" fill="none" stroke="#000" stroke-width="2" marker-end="url(#ah)"/>
<rect x="910" y="2059" width="99" height="50" rx="8" fill="#fdcb9b"/><text x="960" y="2090" font-size="16" text-anchor="middle">NF-κB</text>
<polygon points="590,2098 600,2132 628,2112 616,2145 652,2150 622,2170 650,2192 614,2192 622,2228 596,2200 578,2236 575,2198 540,2212 560,2180 528,2165 560,2155 532,2128 568,2135" fill="#ff0000"/>
<text x="590" y="2172" font-size="18" text-anchor="middle">ROS</text>
<ellipse cx="772" cy="2282" rx="189" ry="122" fill="none" stroke="#7f94c0" stroke-width="5" stroke-dasharray="12 8"/>
<ellipse cx="772" cy="2282" rx="189" ry="122" fill="none" stroke="#fff" stroke-width="1.5" stroke-dasharray="12 8"/>
<g transform="translate(745,2215) scale(0.98,1.6)"><use href="#dna"/></g>
<g transform="translate(600,2300) scale(1.38,1.9)"><use href="#dna"/></g>
<g><circle cx="988" cy="2150" r="9" fill="#8a9a3a"/><circle cx="968" cy="2165" r="10" fill="#c08a10"/><circle cx="1005" cy="2165" r="10" fill="#c01010"/><circle cx="1037" cy="2173" r="10" fill="#d8d010"/><circle cx="988" cy="2185" r="10" fill="#1a80c0"/><circle cx="1016" cy="2182" r="10" fill="#b0a890"/></g>
<g font-size="16" text-anchor="middle"><text x="1006" y="2207">Inflammatory</text><text x="1006" y="2230">factors</text>
<text x="528" y="2369">LOX-1</text><text x="985" y="2414">LOX-1</text></g>
<text x="853" y="2279" font-size="16">LOX-1</text>
<use href="#lox" x="527" y="2300"/><use href="#lox" x="842" y="2268"/><use href="#lox" x="985" y="2352"/><use href="#lox" x="815" y="2403"/>
<path d="M683,2450 V2478 H795" fill="none" stroke="#000" stroke-width="4" marker-end="url(#ahb)"/>
<g font-size="18" font-weight="bold" text-anchor="middle"><text x="885" y="2472">Foam cells</text><text x="885" y="2497">Atherosclerosis</text></g>
</svg>
</body></html>
